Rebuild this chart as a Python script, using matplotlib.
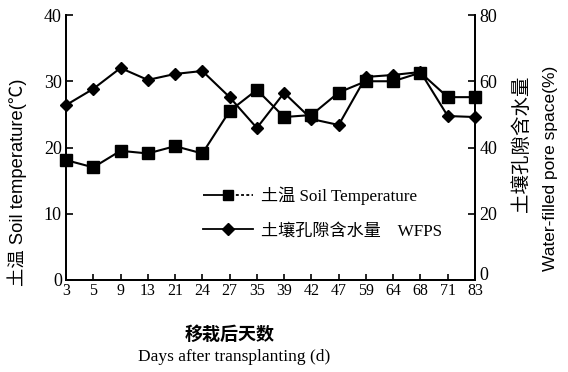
import matplotlib
matplotlib.use("Agg")
import matplotlib.pyplot as plt
from matplotlib.lines import Line2D

days = ["3", "5", "9", "13", "21", "24", "27", "35", "39", "42", "47", "59", "64", "68", "71", "83"]
soil_temp = [18.1, 17.0, 19.5, 19.1, 20.2, 19.1, 25.5, 28.7, 24.6, 24.9, 28.3, 30.0, 30.0, 31.3, 27.6, 27.6]
wfps = [52.8, 57.7, 64.0, 60.4, 62.2, 63.1, 55.2, 45.9, 56.5, 48.6, 46.8, 61.3, 61.9, 62.8, 49.5, 49.2]

SERIF = ["Liberation Serif", "Noto Sans CJK SC"]
SANS = ["Liberation Sans", "Noto Sans CJK SC"]

fig = plt.figure(figsize=(5.68, 3.72), dpi=100)
ax = fig.add_axes([66/568, 1-280/372, (475-66)/568, (280-15)/372])
ax2 = ax.twinx()

x = list(range(len(days)))
ax.plot(x, soil_temp, color="black", lw=1.5, marker="s", ms=9, clip_on=False, zorder=3)
ax2.plot(x, wfps, color="black", lw=1.5, marker="D", ms=6.5, clip_on=False, zorder=3)

ax.set_xlim(0, len(days)-1)
ax.set_ylim(0, 40)
ax2.set_ylim(0, 80)
ax.set_xticks(x)
ax.set_xticklabels(days, family=SERIF, fontsize=11.5)
ax.set_yticks([0, 10, 20, 30, 40])
ax.set_yticklabels(["0", "10", "20", "30", "40"], family=SERIF, fontsize=13)
ax2.set_yticks([0, 20, 40, 60, 80])
ax2.set_yticklabels(["0", "20", "40", "60", "80"], family=SERIF, fontsize=13)
for lbl in ax2.get_yticklabels():
    if lbl.get_text() == "0":
        lbl.set_va("baseline")

for a in (ax, ax2):
    a.spines["top"].set_visible(False)
    for s in a.spines.values():
        s.set_linewidth(1.3)
ax.tick_params(axis="x", direction="in", length=4, width=1.2, pad=2)
ax.tick_params(axis="y", direction="in", length=5, width=1.2, pad=3)
ax2.tick_params(axis="y", direction="in", length=5, width=1.2, pad=3)

ax.set_ylabel("土温 Soil temperature(℃)", family=SANS, fontsize=13.2)
ax.yaxis.set_label_coords(-0.095, 0.37)
fig.text(522/568, 1-144/372, "土壤孔隙含水量", family=SANS, fontsize=14,
         rotation=90, ha="center", va="center")
fig.text(551/568, 1-168/372, "Water-filled pore space(%)", family=SANS, fontsize=12.5,
         rotation=90, ha="center", va="center")

fig.text(230/568, 1-335/372, "移栽后天数", family=SANS, fontsize=13,
         fontweight="bold", ha="center", va="center")
fig.text(234/568, 1-357/372, "Days after transplanting (d)", family=SERIF, fontsize=12.5,
         ha="center", va="center")

dash = (0, (14, 1.3, 1.6, 1.3, 1.6, 1.3, 1.6, 1.3, 1.6, 1.3, 1.6, 1.3, 1.6, 1.3, 1.6, 30))
handles = [
    Line2D([], [], color="black", lw=1.3, ls=dash, marker="s", ms=7.5),
    Line2D([], [], color="black", lw=1.3, marker="D", ms=6),
]
labels = ["土温 Soil Temperature", "土壤孔隙含水量    WFPS"]
leg = ax.legend(handles, labels, loc="center left", bbox_to_anchor=(188/568, 1-213/372),
                bbox_transform=fig.transFigure, frameon=False, handlelength=2.9,
                handletextpad=0.5, labelspacing=1.05, prop={"family": SERIF, "size": 12.3})

fig.savefig("out.png", dpi=100)
